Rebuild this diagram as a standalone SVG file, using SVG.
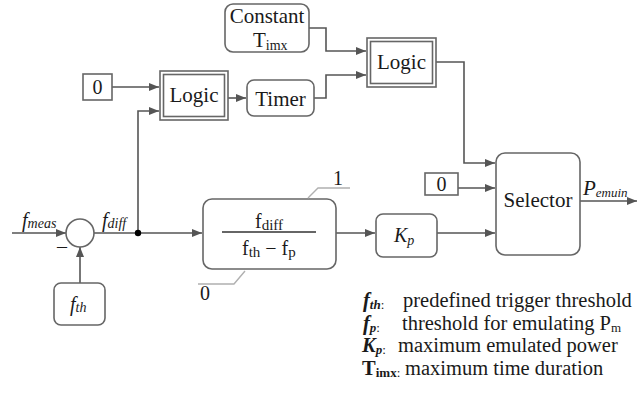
<svg xmlns="http://www.w3.org/2000/svg" width="637" height="394" viewBox="0 0 637 394">
<defs>
<marker id="arr" markerWidth="10" markerHeight="8" refX="10" refY="4" orient="auto" markerUnits="userSpaceOnUse">
<path d="M0,0 L10,4 L0,8 Z" fill="#555"/>
</marker>
<style>
.box{fill:#fff;stroke:#666;stroke-width:1.6}
.ln{fill:none;stroke:#555;stroke-width:1.6}
.lim{fill:none;stroke:#b0b0b0;stroke-width:1.4}
.t{font-family:"Liberation Serif","Times New Roman",serif;font-size:20px;fill:#1a1a1a}
.L{font-size:21px}
.g{font-size:20.5px}
.c{text-anchor:middle}
.i{font-style:italic}
.b{font-weight:bold}
</style>
</defs>
<rect width="637" height="394" fill="#fff"/>
<g id="connectors">
<line class="ln" x1="112" y1="87" x2="159" y2="87" marker-end="url(#arr)"/>
<polyline class="ln" points="138,233 138,111 159,111" marker-end="url(#arr)"/>
<line class="ln" x1="228" y1="98" x2="246" y2="98" marker-end="url(#arr)"/>
<polyline class="ln" points="309,28 326,28 326,51 366,51" marker-end="url(#arr)"/>
<polyline class="ln" points="314,98 326,98 326,75 366,75" marker-end="url(#arr)"/>
<polyline class="ln" points="436,62 464,62 464,163 495,163" marker-end="url(#arr)"/>
<line class="ln" x1="458" y1="188" x2="495" y2="188" marker-end="url(#arr)"/>
<line class="ln" x1="437" y1="233" x2="495" y2="233" marker-end="url(#arr)"/>
<line class="ln" x1="336" y1="233" x2="375" y2="233" marker-end="url(#arr)"/>
<line class="ln" x1="94" y1="233" x2="202" y2="233" marker-end="url(#arr)"/>
<line class="ln" x1="12" y1="233" x2="66" y2="233" marker-end="url(#arr)"/>
<line class="ln" x1="80" y1="283" x2="80" y2="247" marker-end="url(#arr)"/>
<line class="ln" x1="580" y1="201" x2="637" y2="201" marker-end="url(#arr)"/>
<circle cx="138" cy="233" r="3.2" fill="#000"/>
</g>
<g id="constant">
<rect class="box" x="225" y="4" width="84" height="48" rx="8"/>
<text class="t L c" x="267" y="23">Constant</text>
<text class="t L" x="253" y="47">T<tspan font-size="14" dy="3">imx</tspan></text>
</g>
<g id="zero1">
<rect class="box" x="83" y="74" width="29" height="26"/>
<text class="t c" x="97.5" y="94">0</text>
</g>
<g id="logic1">
<rect class="box" x="160" y="71" width="68" height="49"/>
<rect class="box" x="163.5" y="74.5" width="61" height="42"/>
<text class="t L c" x="194" y="102">Logic</text>
</g>
<g id="timer">
<rect class="box" x="247" y="80" width="67" height="36" rx="7"/>
<text class="t L c" x="280.5" y="106">Timer</text>
</g>
<g id="logic2">
<rect class="box" x="367" y="38" width="69" height="49"/>
<rect class="box" x="370.5" y="41.5" width="62" height="42"/>
<text class="t L c" x="401.5" y="69">Logic</text>
</g>
<g id="zero2">
<rect class="box" x="425" y="173" width="33" height="22"/>
<text class="t c" x="441.5" y="191">0</text>
</g>
<g id="selector">
<rect class="box" x="496" y="153" width="84" height="102" rx="9"/>
<text class="t L c" x="538" y="207">Selector</text>
<text class="t L i" x="583" y="195">P<tspan font-size="13" dy="2">emuin</tspan></text>
</g>
<g id="sum">
<circle class="box" cx="80" cy="233" r="14"/>
<text class="t i" x="22" y="227">f<tspan font-size="14" dy="1">meas</tspan></text>
<text class="t i" x="102" y="227">f<tspan font-size="14" dy="1">diff</tspan></text>
<text class="t" x="57" y="253">–</text>
</g>
<g id="fth">
<rect class="box" x="54" y="283" width="51" height="42" rx="7"/>
<text class="t i" x="70" y="311">f<tspan font-size="14" dy="1">th</tspan></text>
</g>
<g id="fraction">
<rect class="box" x="203" y="199" width="133" height="70" rx="9"/>
<line x1="222" y1="232" x2="316" y2="232" stroke="#333" stroke-width="1.3"/>
<text class="t" x="255" y="228">f<tspan font-size="15" dy="2">diff</tspan></text>
<text class="t" x="242" y="255">f<tspan font-size="15" dy="2">th</tspan><tspan dy="-2"> −  f</tspan><tspan font-size="15" dy="2">p</tspan></text>
<polyline class="lim" points="308,198 318,188 350,188"/>
<text class="t" x="333" y="185">1</text>
<polyline class="lim" points="245,271 234,284 198,284"/>
<text class="t" x="200" y="300">0</text>
</g>
<g id="kp">
<rect class="box" x="376" y="214" width="61" height="43" rx="7"/>
<text class="t i" x="394" y="242">K<tspan font-size="14" dy="3">p</tspan></text>
</g>
<g id="legend">
<text class="t g" x="363" y="307"><tspan class="i b">f</tspan><tspan class="i b" font-size="13" dy="2">th</tspan><tspan font-size="13">:</tspan><tspan dy="-2" x="403">predefined trigger threshold</tspan></text>
<text class="t g" x="363" y="330"><tspan class="i b">f</tspan><tspan class="i b" font-size="13" dy="2">p</tspan><tspan font-size="13">:</tspan><tspan dy="-2" x="402">threshold for emulating P</tspan><tspan font-size="13" dy="2">m</tspan></text>
<text class="t g" x="362" y="352"><tspan class="i b">K</tspan><tspan class="i b" font-size="13" dy="2">p</tspan><tspan font-size="13">:</tspan><tspan dy="-2" x="398">maximum emulated power</tspan></text>
<text class="t g" x="362" y="375"><tspan class="b">T</tspan><tspan class="b" font-size="13" dy="2">imx</tspan><tspan font-size="13">:</tspan><tspan dy="-2" x="405">maximum time duration</tspan></text>
</g>
</svg>
